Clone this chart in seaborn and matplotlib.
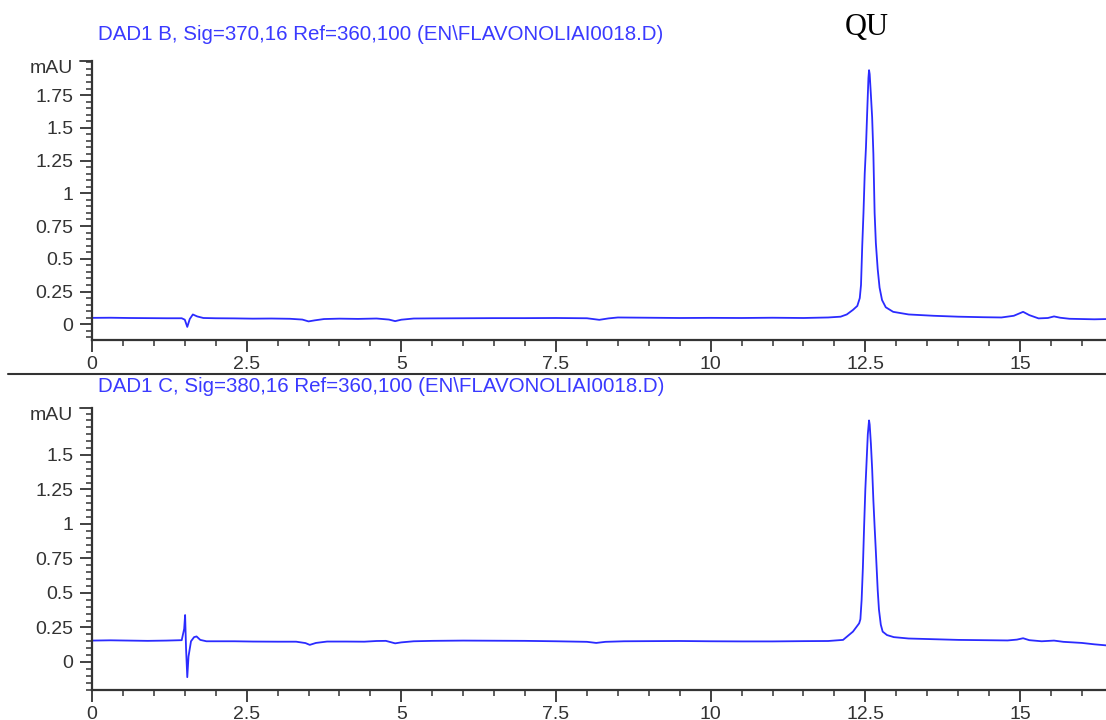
import matplotlib
matplotlib.use("Agg")
import matplotlib.pyplot as plt
import seaborn as sns
import pandas as pd
from matplotlib.ticker import MultipleLocator, FuncFormatter

# ---------------- data ----------------
time_b = [0.0, 0.3, 0.6, 0.9, 1.2, 1.45, 1.50, 1.54, 1.58, 1.63, 1.70, 1.80, 2.0, 2.3,
          2.6, 2.9, 3.2, 3.4, 3.5, 3.6, 3.75, 4.0, 4.3, 4.6, 4.8, 4.9, 5.0, 5.2, 5.5,
          6.0, 6.5, 7.0, 7.5, 8.0, 8.2, 8.35, 8.5, 9.0, 9.5, 10.0, 10.5, 11.0, 11.5,
          11.9, 12.1, 12.2, 12.3, 12.37, 12.41, 12.43, 12.45, 12.47, 12.49, 12.51,
          12.53, 12.55, 12.56, 12.57, 12.59, 12.61, 12.63, 12.65, 12.67, 12.70, 12.73,
          12.77, 12.83, 12.95, 13.2, 13.6, 14.0, 14.4, 14.7, 14.9, 15.05, 15.15, 15.3,
          15.45, 15.55, 15.65, 15.8, 16.0, 16.2, 16.4]
signal_b = [0.049, 0.050, 0.048, 0.047, 0.046, 0.046, 0.035, -0.020, 0.040, 0.075,
            0.060, 0.048, 0.046, 0.045, 0.043, 0.044, 0.042, 0.036, 0.022, 0.030,
            0.040, 0.043, 0.041, 0.044, 0.036, 0.024, 0.035, 0.044, 0.045, 0.046,
            0.047, 0.047, 0.048, 0.046, 0.034, 0.045, 0.052, 0.050, 0.048, 0.049,
            0.048, 0.050, 0.048, 0.052, 0.058, 0.075, 0.110, 0.140, 0.200, 0.300,
            0.600, 0.850, 1.150, 1.350, 1.620, 1.880, 1.940, 1.910, 1.750, 1.580,
            1.300, 0.850, 0.620, 0.420, 0.280, 0.185, 0.130, 0.095, 0.075, 0.065,
            0.058, 0.054, 0.052, 0.065, 0.095, 0.070, 0.045, 0.048, 0.060, 0.050,
            0.042, 0.040, 0.038, 0.040]

time_c = [0.0, 0.3, 0.6, 0.9, 1.2, 1.45, 1.49, 1.505, 1.52, 1.54, 1.56, 1.60, 1.65,
          1.69, 1.75, 1.85, 2.0, 2.3, 2.6, 3.0, 3.3, 3.45, 3.52, 3.62, 3.8, 4.1, 4.4,
          4.6, 4.75, 4.9, 5.0, 5.2, 5.5, 6.0, 6.5, 7.0, 7.5, 8.0, 8.15, 8.3, 8.6, 9.0,
          9.5, 10.0, 10.5, 11.0, 11.5, 11.9, 12.14, 12.30, 12.40, 12.42, 12.44, 12.46,
          12.48, 12.50, 12.52, 12.54, 12.56, 12.57, 12.59, 12.61, 12.63, 12.65, 12.67,
          12.70, 12.72, 12.75, 12.78, 12.85, 12.96, 13.2, 13.6, 14.0, 14.4, 14.8, 14.95,
          15.05, 15.15, 15.35, 15.55, 15.7, 16.0, 16.2, 16.4]
signal_c = [0.155, 0.157, 0.155, 0.153, 0.155, 0.158, 0.240, 0.340, 0.100, -0.110,
            0.040, 0.150, 0.180, 0.185, 0.160, 0.150, 0.150, 0.150, 0.148, 0.147,
            0.147, 0.137, 0.124, 0.138, 0.148, 0.148, 0.147, 0.152, 0.153, 0.135,
            0.142, 0.150, 0.153, 0.155, 0.154, 0.153, 0.150, 0.146, 0.138, 0.146,
            0.150, 0.151, 0.152, 0.150, 0.149, 0.149, 0.151, 0.152, 0.160, 0.220,
            0.280, 0.310, 0.450, 0.680, 0.980, 1.250, 1.450, 1.650, 1.750, 1.720,
            1.580, 1.400, 1.170, 0.980, 0.800, 0.520, 0.380, 0.270, 0.220, 0.195,
            0.180, 0.170, 0.165, 0.160, 0.158, 0.156, 0.162, 0.172, 0.158, 0.150,
            0.155, 0.146, 0.138, 0.128, 0.120]

titles = ["DAD1 B, Sig=370,16 Ref=360,100 (EN\\FLAVONOLIAI0018.D)",
          "DAD1 C, Sig=380,16 Ref=360,100 (EN\\FLAVONOLIAI0018.D)"]
y_unit = "mAU"
peak_label = "QU"
peak_label_time = 12.52

# ---------------- figure ----------------
sns.set_style("white")
plt.rcParams["font.family"] = ["Liberation Sans", "DejaVu Sans"]

W, H = 1106, 720
fig = plt.figure(figsize=(W / 100, H / 100), dpi=100)

line_color = "#2b2bff"
title_color = "#3a3aff"
tick_color = "#333333"
axis_color = "#333333"


def fx(px):
    return px / W


def fy(py):
    return 1 - py / H


panels = [
    dict(t=time_b, s=signal_b, top=61, bottom=340, ylim=(-0.12, 2.01), ymax_tick=1.75,
         title=titles[0], title_y=35),
    dict(t=time_c, s=signal_c, top=408, bottom=690, ylim=(-0.203, 1.84), ymax_tick=1.5,
         title=titles[1], title_y=386),
]

fmt = FuncFormatter(lambda v, pos: "%g" % round(v, 3))

for i, p in enumerate(panels):
    ax = fig.add_axes([fx(92), fy(p["bottom"]), 1 - fx(92), (p["bottom"] - p["top"]) / H])
    df = pd.DataFrame({"time": p["t"], "signal": p["s"]})
    sns.lineplot(data=df, x="time", y="signal", ax=ax, color=line_color, linewidth=1.3,
                 estimator=None)
    ax.set_xlim(0, 16.39)
    ax.set_xlabel("")
    ax.set_ylabel("")
    for side in ["top", "right"]:
        ax.spines[side].set_visible(False)
    for side in ["left", "bottom"]:
        ax.spines[side].set_color(axis_color)
        ax.spines[side].set_linewidth(1.6)
    ax.xaxis.set_major_locator(MultipleLocator(2.5))
    ax.xaxis.set_minor_locator(MultipleLocator(0.5))
    ax.yaxis.set_major_locator(MultipleLocator(0.25))
    ax.yaxis.set_minor_locator(MultipleLocator(0.05))
    ax.xaxis.set_major_formatter(fmt)
    ax.yaxis.set_major_formatter(fmt)
    ax.tick_params(axis="both", which="major", direction="out", length=8.5, width=1.3,
                   color=axis_color, labelsize=14, labelcolor=tick_color)
    ax.tick_params(axis="y", which="major", pad=5)
    ax.tick_params(axis="x", which="major", pad=3)
    ax.tick_params(axis="both", which="minor", direction="out", length=4.5, width=1.1,
                   color=axis_color)
    ax.tick_params(left=True, bottom=True, which="both")
    ax.set_ylim(*p["ylim"])
    ax.set_yticks([v for v in ax.get_yticks() if -0.01 < v <= p["ymax_tick"] + 0.001])
    ax.set_ylim(*p["ylim"])
    ax.grid(False)
    # unit label at the top of the y axis
    ax.text(-0.019, 0.972, y_unit, transform=ax.transAxes, ha="right", va="center",
            fontsize=14, color=tick_color)
    ax.plot([0, -0.012], [1, 1], transform=ax.transAxes, color=axis_color, lw=1.3,
            clip_on=False)
    fig.text(fx(98), fy(p["title_y"]), p["title"], ha="left", va="center",
             fontsize=14.8, color=title_color)

    if i == 0:
        ax.text(peak_label_time, 1 + (61 - 35) / (340 - 61), peak_label,
                transform=ax.get_xaxis_transform(), ha="center", va="baseline",
                fontsize=22, color="black", family=["Liberation Serif", "DejaVu Serif"])

# separator between the two chromatograms
fig.add_artist(plt.Line2D([fx(8), 1], [fy(374), fy(374)], color="#333333", lw=1.5))

fig.savefig("out.png", dpi=100)
